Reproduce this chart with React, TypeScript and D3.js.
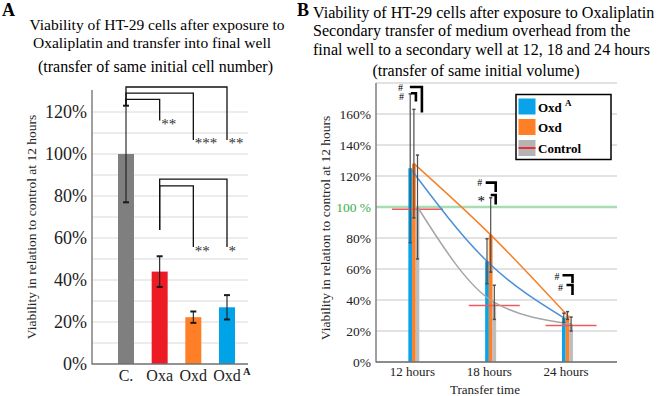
import React from "react";
import * as d3 from "d3";

const W = 659;
const H = 396;
const SERIF = "'Liberation Serif', 'Times New Roman', serif";

// ---- Panel A: viability after transfer into final well ----
const groupsA = ["C.", "Oxa", "Oxd", "OxdA"];
const viabilityA = [100, 44, 22.3, 27];
const errorA = [23, 7.3, 2.7, 5.8];
const colorsA = ["#7f7f7f", "#ed1c24", "#ff7f27", "#00a2e8"];
const ticksA = [0, 20, 40, 60, 80, 100, 120];
const gridA = [10, 20, 30, 40, 50, 60, 70, 80, 90, 100, 110, 120];

// significance comparisons (levels in % units)
const sigFromA = ["C.", "C.", "C.", "Oxa", "Oxa"];
const sigToA = ["Oxa", "Oxd", "OxdA", "Oxd", "OxdA"];
const sigBaseA = [123, 123, 123, 63.8, 63.8];
const sigLevelA = [126, 129, 131.9, 84.8, 88];
const sigDropA = [116, 106.7, 106.7, 55.7, 55.7];
const sigLabelA = ["**", "***", "**", "**", "*"];

// ---- Panel B: secondary transfer at 12, 18 and 24 hours ----
const timesB = ["12 hours", "18 hours", "24 hours"];
const oxdAValues = [125, 65, 28.5];
const oxdAErrors = [48, 14.5, 3];
const oxdValues = [128, 82, 30];
const oxdErrors = [35, 24, 2.5];
const controlValues = [100, 38.5, 24.5];
const controlErrors = [33.5, 11, 4.5];
const controlMean = [98.5, 36.5, 23.5];
const ticksB = [0, 20, 40, 60, 80, 100, 120, 140, 160];
const gridB = [0, 20, 40, 60, 80, 100, 120, 140, 160, 180];

// significance marks per time point: outer / inner bracket levels in %
const sigOuterTopB = [177.4, 115.7, 56];
const sigOuterBotB = [161, 109.7, 51];
const sigInnerTopB = [173.4, 107.7, 49.7];
const sigInnerBotB = [168, 101.6, 43.2];
const sigOuterLabelB = ["#", "#", "#"];
const sigInnerLabelB = ["#", "*", "#"];

// bracket horizontal extents relative to the group centre (px)
const bracketLayout = [
  { outer: [-4, 8], inner: [-3, 2], lo: [-13.5, 3.5], li: [-12.5, 7] },
  { outer: [-5, 5], inner: [0, 5], lo: [-11, 3.5], li: [-9.5, 11] },
  { outer: [-5, 5], inner: [-1, 5], lo: [-10.5, 5], li: [-7, 6] },
];

export default function App() {
  // Panel A scales
  const yA = d3.scaleLinear().domain([0, 130]).range([364, 91]);
  const xA = d3.scalePoint<string>().domain(groupsA).range([126, 227]);
  const barWA = 16;

  // Panel B scales
  const yB = d3.scaleLinear().domain([0, 180]).range([362, 83]);
  const xB = d3.scalePoint<string>().domain(timesB).range([413.9, 567.5]);
  const barWB = 3.7;

  const seriesB = [
    { key: "OxdA", values: oxdAValues, errors: oxdAErrors, dx: -3.7, fill: "#0aa2e8", line: "#4a90d9" },
    { key: "Oxd", values: oxdValues, errors: oxdErrors, dx: 0, fill: "#ff7f27", line: "#f5822a" },
    { key: "Control", values: controlValues, errors: controlErrors, dx: 3.6, fill: "#bdbdbd", line: "#a6a6a6" },
  ];

  const lineGen = d3
    .line<[number, number]>()
    .x((d) => d[0])
    .y((d) => d[1])
    .curve(d3.curveMonotoneX);

  return (
    <svg
      width={W}
      height={H}
      viewBox={`0 0 ${W} ${H}`}
      style={{ position: "absolute", left: 0, top: 0, background: "#fff" }}
      fontFamily={SERIF}
    >
      <rect x={0} y={0} width={W} height={H} fill="#fff" />

      {/* ================= Panel A ================= */}
      <text x={2} y={16} fontSize={18} fontWeight="bold">A</text>
      <text x={157} y={29.5} fontSize={15.5} textAnchor="middle">Viability of HT-29 cells after exposure to</text>
      <text x={152} y={48} fontSize={15.5} textAnchor="middle">Oxaliplatin and transfer into final well</text>
      <text x={155.5} y={72} fontSize={16} textAnchor="middle">(transfer of same initial cell number)</text>

      {gridA.map((v) => (
        <line key={"ga" + v} x1={92} x2={248} y1={yA(v)} y2={yA(v)} stroke="#d9d9d9" strokeWidth={1.2} />
      ))}
      {ticksA.map((v) => (
        <text key={"ta" + v} x={87} y={yA(v)} dy="0.35em" fontSize={18} textAnchor="end" fill="#222">
          {v}%
        </text>
      ))}
      <text
        transform={`translate(36,227) rotate(-90)`}
        fontSize={13.5}
        textAnchor="middle"
        fill="#222"
      >
        Viability in relation to control at 12 hours
      </text>

      {groupsA.map((g, i) => (
        <rect
          key={"ba" + g}
          x={xA(g)! - barWA / 2}
          y={yA(viabilityA[i])}
          width={barWA}
          height={yA(0) - yA(viabilityA[i])}
          fill={colorsA[i]}
        />
      ))}
      {groupsA.map((g, i) => {
        const cx = xA(g)!;
        const t = yA(viabilityA[i] + errorA[i]);
        const b = yA(viabilityA[i] - errorA[i]);
        return (
          <g key={"ea" + g} stroke="#1a1a1a">
            <line x1={cx} x2={cx} y1={t} y2={b} strokeWidth={1.1} />
            <line x1={cx - 3} x2={cx + 3} y1={t} y2={t} strokeWidth={2} />
            <line x1={cx - 3} x2={cx + 3} y1={b} y2={b} strokeWidth={2} />
          </g>
        );
      })}

      <line x1={92} x2={92} y1={90} y2={364.5} stroke="#808080" strokeWidth={1.5} />
      <line x1={92} x2={248} y1={364} y2={364} stroke="#707070" strokeWidth={1.5} />

      {groupsA.map((g, i) => (
        <text key={"la" + g} x={xA(g)!} y={381} fontSize={16} textAnchor="middle" fill="#222">
          {g === "OxdA" ? "Oxd" : g}
        </text>
      ))}
      <text x={243} y={375} fontSize={10.5} fontWeight="bold" fill="#222">A</text>

      {/* significance brackets, panel A */}
      {sigFromA.map((f, i) => {
        const x0 = xA(f)!;
        const x1 = xA(sigToA[i])!;
        const yl = yA(sigLevelA[i]);
        const yd = yA(sigDropA[i]);
        const yb = yA(sigBaseA[i]);
        return (
          <g key={"sa" + i}>
            <path
              d={`M${x0},${yb}V${yl}H${x1}V${yd}`}
              fill="none"
              stroke="#111"
              strokeWidth={1.3}
            />
            <text x={x1 + 1.5} y={yd + 8.5} fontSize={15} fill="#333">
              {sigLabelA[i]}
            </text>
          </g>
        );
      })}

      {/* ================= Panel B ================= */}
      <text x={297} y={16} fontSize={18} fontWeight="bold">B</text>
      <text x={313} y={17.5} fontSize={16.1}>Viability of HT-29 cells after exposure to Oxaliplatin</text>
      <text x={313} y={36} fontSize={16.1}>Secondary transfer of medium overhead from the</text>
      <text x={313} y={54.5} fontSize={16.1}>final well to a secondary well at 12, 18 and 24 hours</text>
      <text x={476} y={75.5} fontSize={16} textAnchor="middle">(transfer of same initial volume)</text>

      {gridB.map((v) => (
        <line
          key={"gb" + v}
          x1={376}
          x2={617}
          y1={yB(v)}
          y2={yB(v)}
          stroke={v === 100 ? "#a8dcb2" : "#d9d9d9"}
          strokeWidth={v === 100 ? 2.5 : 1.5}
        />
      ))}
      {ticksB.map((v) => (
        <text
          key={"tb" + v}
          x={371}
          y={yB(v)}
          dy="0.35em"
          fontSize={13.5}
          textAnchor="end"
          fill={v === 100 ? "#3aae4a" : "#222"}
        >
          {v === 100 ? "100 %" : `${v}%`}
        </text>
      ))}
      <text
        transform={`translate(330,228) rotate(-90)`}
        fontSize={13.5}
        textAnchor="middle"
        fill="#222"
      >
        Viability in relation to control at 12 hours
      </text>

      {/* bars */}
      {seriesB.map((s) =>
        timesB.map((t, i) => (
          <rect
            key={"bb" + s.key + t}
            x={xB(t)! + s.dx - barWB / 2}
            y={yB(s.values[i])}
            width={barWB}
            height={yB(0) - yB(s.values[i])}
            fill={s.fill}
          />
        ))
      )}

      {/* control mean markers */}
      {timesB.map((t, i) => {
        const cx = xB(t)! + 3.6;
        return (
          <line
            key={"cm" + t}
            x1={cx - 25.5}
            x2={cx + 25.5}
            y1={yB(controlMean[i])}
            y2={yB(controlMean[i])}
            stroke="#ef5a5f"
            strokeWidth={1.5}
          />
        );
      })}

      {/* trend lines */}
      {[seriesB[2], seriesB[0], seriesB[1]].map((s) => (
        <path
          key={"lb" + s.key}
          d={lineGen(timesB.map((t, i) => [xB(t)! + s.dx, yB(s.values[i])] as [number, number]))!}
          fill="none"
          stroke={s.line}
          strokeWidth={1.5}
        />
      ))}

      {/* error bars */}
      {seriesB.map((s) =>
        timesB.map((t, i) => {
          const cx = xB(t)! + s.dx;
          const tp = yB(s.values[i] + s.errors[i]);
          const bt = yB(s.values[i] - s.errors[i]);
          return (
            <g key={"eb" + s.key + t} stroke="#4d4d4d">
              <line x1={cx} x2={cx} y1={tp} y2={bt} strokeWidth={1.2} />
              <line x1={cx - 1.6} x2={cx + 1.6} y1={tp} y2={tp} strokeWidth={1.5} />
              <line x1={cx - 1.6} x2={cx + 1.6} y1={bt} y2={bt} strokeWidth={1.5} />
            </g>
          );
        })
      )}

      {/* significance marks, panel B */}
      {timesB.map((t, i) => {
        const cx = xB(t)!;
        const L = bracketLayout[i];
        const ot = yB(sigOuterTopB[i]);
        const ob = yB(sigOuterBotB[i]);
        const it = yB(sigInnerTopB[i]);
        const ib = yB(sigInnerBotB[i]);
        return (
          <g key={"sb" + t}>
            <path
              d={`M${cx + L.outer[0]},${ot}H${cx + L.outer[1]}V${ob}`}
              fill="none"
              stroke="#000"
              strokeWidth={2.6}
            />
            <path
              d={`M${cx + L.inner[0]},${it}H${cx + L.inner[1]}V${ib}`}
              fill="none"
              stroke="#000"
              strokeWidth={2.6}
            />
            <text x={cx + L.lo[0]} y={ot + L.lo[1]} fontSize={10} textAnchor="middle">
              {sigOuterLabelB[i]}
            </text>
            <text
              x={cx + L.li[0]}
              y={it + L.li[1]}
              fontSize={sigInnerLabelB[i] === "*" ? 15 : 10}
              textAnchor="middle"
            >
              {sigInnerLabelB[i]}
            </text>
          </g>
        );
      })}

      {/* axes */}
      <line x1={376} x2={376} y1={83} y2={362.5} stroke="#7f7f7f" strokeWidth={1.5} />
      <line x1={376} x2={617} y1={362} y2={362} stroke="#6f6f6f" strokeWidth={1.5} />

      {timesB.map((t) => (
        <text key={"xb" + t} x={xB(t)! - 1.5} y={376} fontSize={13} textAnchor="middle" fill="#222">
          {t}
        </text>
      ))}
      <text x={485} y={394} fontSize={13} textAnchor="middle" fill="#222">Transfer time</text>

      {/* legend */}
      <rect x={516} y={94.5} width={95} height={65} fill="#fff" stroke="#000" strokeWidth={1.5} />
      <rect x={518.5} y={98.5} width={17} height={16} fill="#0aa2e8" />
      <rect x={518.5} y={119} width={17} height={16} fill="#ff7f27" />
      <rect x={518.5} y={140} width={17} height={16} fill="#b4b4b4" />
      <line x1={518.5} x2={535.5} y1={148} y2={148} stroke="#e8303a" strokeWidth={2} />
      <text x={538} y={111.5} fontSize={13} fontWeight="bold">Oxd</text>
      <text x={565} y={105.5} fontSize={9} fontWeight="bold">A</text>
      <text x={538} y={132} fontSize={13} fontWeight="bold">Oxd</text>
      <text x={538} y={152.5} fontSize={13} fontWeight="bold">Control</text>
    </svg>
  );
}
